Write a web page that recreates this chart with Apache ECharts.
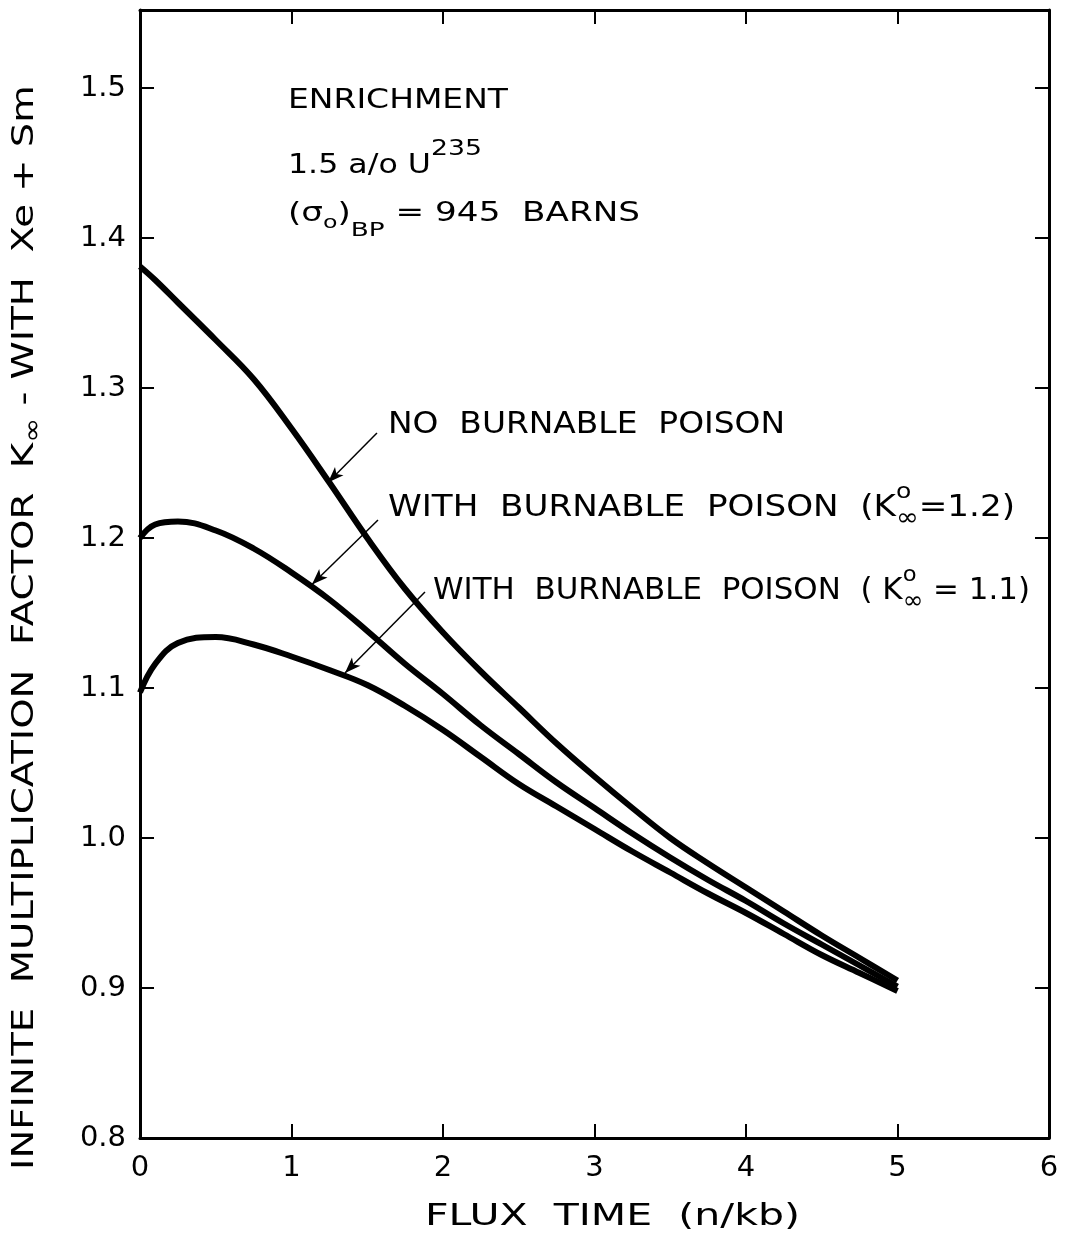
<!DOCTYPE html>
<html>
<head>
	<meta charset="utf-8">
	<title>Infinite multiplication factor vs flux time</title>
	<script src="https://cdn.jsdelivr.net/npm/echarts@6/dist/echarts.min.js"></script>
	<style type="text/css">
		body{ margin:0; background:#fff; }
		#main{ width:1069px; height:1234px; }
	</style>
</head>
<body>
<div id="main"></div>
<script type="text/javascript">
	// flux time (n/kb)
	var fluxTime = [0, 0.1, 0.25, 0.5, 0.75, 1, 1.25, 1.5, 1.75, 2, 2.25, 2.5, 2.75, 3, 3.25, 3.5, 3.75, 4, 4.25, 4.5, 4.75, 5];
	// K-infinity curves
	var noPoison = [1.381, 1.372, 1.357, 1.332, 1.306, 1.273, 1.237, 1.200, 1.166, 1.137, 1.111, 1.087, 1.063, 1.041, 1.020, 1.000, 0.983, 0.967, 0.951, 0.935, 0.920, 0.905];
	var poison12 = [1.200, 1.209, 1.211, 1.205, 1.193, 1.177, 1.159, 1.138, 1.116, 1.096, 1.075, 1.056, 1.037, 1.020, 1.003, 0.987, 0.972, 0.958, 0.943, 0.929, 0.915, 0.901];
	var poison11 = [1.097, 1.116, 1.130, 1.134, 1.129, 1.121, 1.112, 1.102, 1.088, 1.072, 1.054, 1.036, 1.021, 1.006, 0.991, 0.977, 0.963, 0.950, 0.936, 0.922, 0.910, 0.898];

	var xTicks = [0, 1, 2, 3, 4, 5, 6];
	var yTicks = [0.8, 0.9, 1.0, 1.1, 1.2, 1.3, 1.4, 1.5];

	// arrows: [from text, to curve]
	var arrowNo = [[1.564, 1.270], [1.241, 1.237]];
	var arrow12 = [[1.571, 1.212], [1.135, 1.169]];
	var arrow11 = [[1.881, 1.164], [1.353, 1.110]];

	function pairs(xs, ys){
		var out = [];
		for(var i=0;i<xs.length;i++){
			out.push([xs[i], ys[i]]);
		}
		return out;
	}

	var font = 'DejaVu Sans';
	var ink = '#000';

	var measureCtx = document.createElement('canvas').getContext('2d');
	function textWidth(s, size){
		measureCtx.font = size + 'px "' + font + '"';
		return measureCtx.measureText(s).width;
	}

	// lay pieces of text in a row (with sub/superscripts), stretched to fit [0, len]
	// stack:true means the next piece sits over this one (no advance)
	function rowParts(parts, len){
		var total = 0, pend = 0;
		for(var i=0;i<parts.length;i++){
			var w = textWidth(parts[i].t, parts[i].size);
			if(parts[i].stack){ pend = Math.max(pend, w); continue; }
			total += Math.max(pend, w); pend = 0;
		}
		var k = len / total;
		var els = [], acc = 0;
		pend = 0;
		for(var j=0;j<parts.length;j++){
			var p = parts[j];
			var pw = textWidth(p.t, p.size);
			els.push({
				type: 'text', x: acc * k, y: p.dy || 0, scaleX: k,
				style: { text: p.t, font: p.size + 'px "' + font + '"', fill: ink,
					textAlign: 'left', textVerticalAlign: 'middle', verticalAlign: 'middle' }
			});
			if(p.stack){ pend = Math.max(pend, pw); continue; }
			acc += Math.max(pend, pw); pend = 0;
		}
		return els;
	}

	function label(left, right, cy, parts){
		return {
			type: 'group', x: left, y: cy,
			children: rowParts(parts, right - left)
		};
	}

	function curve(name, ys, arrow){
		return {
			name: name,
			type: 'line',
			data: pairs(fluxTime, ys),
			smooth: 0.4,
			symbol: 'none',
			lineStyle: { color: ink, width: 6 },
			markLine: {
				silent: true,
				symbol: ['none', 'arrow'],
				symbolSize: [9, 16],
				label: { show: false },
				lineStyle: { color: ink, width: 1.5, type: 'solid' },
				data: [[{ coord: arrow[0] }, { coord: arrow[1] }]]
			}
		};
	}

	var tickStyle = { inside: true, length: 14, lineStyle: { color: ink, width: 2 } };
	var lineStyle = { onZero: false, lineStyle: { color: ink, width: 3 } };

	var myChart = echarts.init(document.getElementById('main'));

	var option = {
		animation: false,
		backgroundColor: '#fff',
		grid: { left: 140, right: 20, top: 10, bottom: 96 },
		xAxis: [{
			type: 'value', min: 0, max: 6, interval: 1,
			axisLine: lineStyle,
			axisTick: tickStyle,
			axisLabel: { fontFamily: font, fontSize: 29, color: ink, margin: 16,
				formatter: function(v){ return xTicks.indexOf(v) >= 0 ? String(v) : ''; } },
			splitLine: { show: false }
		}, {
			type: 'value', min: 0, max: 6, interval: 1, position: 'top',
			axisLine: lineStyle,
			axisTick: tickStyle,
			axisLabel: { show: false },
			splitLine: { show: false }
		}],
		yAxis: [{
			type: 'value', min: 0.8, max: 1.552, interval: 0.1,
			axisLine: lineStyle,
			axisTick: tickStyle,
			axisLabel: { fontFamily: font, fontSize: 29, color: ink, margin: 14, showMaxLabel: false,
				formatter: function(v){
					for(var i=0;i<yTicks.length;i++){
						if(Math.abs(yTicks[i]-v) < 1e-6){ return yTicks[i].toFixed(1); }
					}
					return '';
				} },
			splitLine: { show: false }
		}, {
			type: 'value', min: 0.8, max: 1.552, interval: 0.1, position: 'right',
			axisLine: lineStyle,
			axisTick: tickStyle,
			axisLabel: { show: false },
			splitLine: { show: false }
		}],
		series: [
			curve('NO BURNABLE POISON', noPoison, arrowNo),
			curve('WITH BURNABLE POISON (K=1.2)', poison12, arrow12),
			curve('WITH BURNABLE POISON (K=1.1)', poison11, arrow11)
		],
		graphic: [
			// axis titles
			label(425, 800, 1217, [{ t: 'FLUX  TIME  (n/kb)', size: 30 }]),
			{
				type: 'group', x: 25, y: 1170, rotation: Math.PI / 2,
				children: rowParts([
					{ t: 'INFINITE  MULTIPLICATION  FACTOR  K', size: 31 },
					{ t: '∞', size: 24, dy: 9 },
					{ t: ' - WITH  Xe + Sm', size: 31 }
				], 1085)
			},

			// enrichment block
			label(288, 508, 101, [{ t: 'ENRICHMENT', size: 26 }]),
			label(288, 482, 166, [{ t: '1.5 a/o U', size: 26 }, { t: '235', size: 22, dy: -17 }]),
			label(288, 640, 214, [
				{ t: '(σ', size: 26 }, { t: 'o', size: 18, dy: 9 }, { t: ')', size: 26 },
				{ t: 'BP', size: 20, dy: 17 }, { t: ' = 945  BARNS', size: 26 }
			]),

			// curve labels
			label(388, 785, 425, [{ t: 'NO  BURNABLE  POISON', size: 30 }]),
			label(388, 1015, 508, [
				{ t: 'WITH  BURNABLE  POISON  (K', size: 30 },
				{ t: '∞', size: 24, dy: 11, stack: true }, { t: 'o', size: 22, dy: -16 },
				{ t: '=1.2)', size: 30 }
			]),
			label(433, 1030, 591, [
				{ t: 'WITH  BURNABLE  POISON  ( K', size: 30 },
				{ t: '∞', size: 24, dy: 11, stack: true }, { t: 'o', size: 22, dy: -16 },
				{ t: ' = 1.1)', size: 30 }
			])
		]
	};

	myChart.setOption(option);
</script>
</body>
</html>
